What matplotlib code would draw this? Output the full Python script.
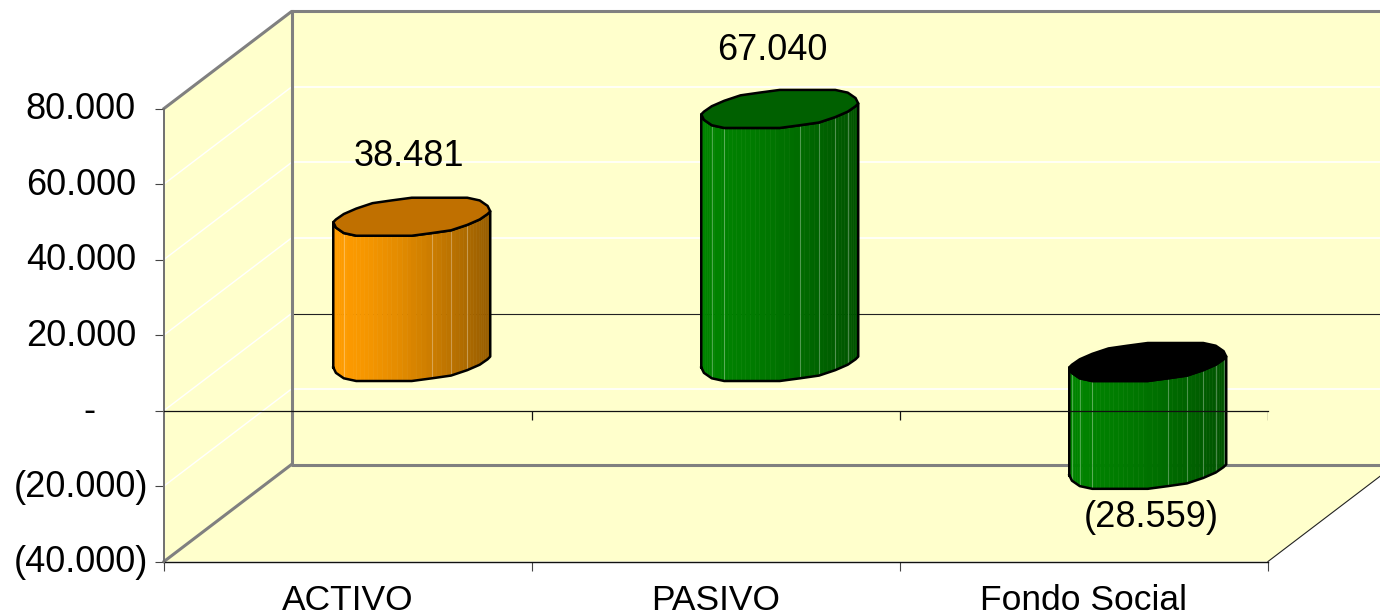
import numpy as np
import matplotlib
matplotlib.use("Agg")
import matplotlib.pyplot as plt
from matplotlib.colors import to_rgb
from matplotlib.transforms import ScaledTranslation

plt.rcParams['font.family'] = ['Liberation Sans', 'DejaVu Sans']

# data
categories = ["ACTIVO", "PASIVO", "Fondo Social"]
values = [38481, 67040, -28559]
value_labels = ["38.481", "67.040", "(28.559)"]
y_ticks = [80000, 60000, 40000, 20000, 0, -20000, -40000]
y_labels = ["80.000", "60.000", "40.000", "20.000", "-", "(20.000)", "(40.000)"]

# style
side_left = ["#FF9C00", "#008400", "#008400"]
side_right = ["#965C00", "#005200", "#005200"]
cap_colors = ["#C07000", "#006000", "#000000"]
pale_edges = [[2, 7, 8, 9], [2, 3, 7, 8, 9, 10], [1, 2, 3, 7, 8, 9, 10, 11]]
label_offsets = [(-3, 60), (-7, 58), (4, -48)]
tick_pads = [13.7, 13.7, 13.7, 13.7, 43, 5, 5]
WALL = "#FFFFCC"
GREY = "#808080"

# oblique depth of the box, in data units
DX = 127.5 / 368
DY = 97 / 3.775 * 1000
RX = 0.201          # cylinder radius along x
RD = 0.206          # cylinder radius along depth
N = 12              # facets on the visible half
SNAP = 0.028        # the original's facets are coarse, snap the height a bit


def project(x, y, d):
    return x + d * DX, y + d * DY


def ring(cx, y, angles):
    depth = RD * np.sin(angles)
    xs, _ = project(cx + RX * np.cos(angles), y, 0.5 + depth)
    _, ys = project(cx, y, 0.5 + np.round(depth / SNAP) * SNAP)
    return xs, ys


fig = plt.figure(figsize=(13.8, 6.15), dpi=100, facecolor="white")
ax = fig.add_axes([164 / 1380, (615 - 561.5) / 615, 1104 / 1380, 453 / 615])
ax.set_xlim(0, 3)
ax.set_ylim(-40000, 80000)
ax.patch.set_visible(False)
for s in ax.spines.values():
    s.set_visible(False)

ymin, ymax = -40000, 80000
xmax = 3

# walls and floor
bx, by = project(0, ymin, 1)
tx, ty = project(0, ymax, 1)
ex, ey = project(xmax, ymin, 1)
ax.fill([0, tx, ex, ex, xmax, 0], [ymax, ty, ty, ey, ymin, ymin],
        color=WALL, lw=0, zorder=1, clip_on=False)

# gridlines on back and side wall
for v in y_ticks[1:-1]:
    if v == 0:
        continue
    gx, gy = project(0, v, 1)
    ax.plot([0, gx], [v, gy], color="white", lw=1.0, zorder=2, clip_on=False)
    ax.plot([gx, ex], [gy, gy], color="white", lw=1.2, zorder=2, clip_on=False)
zx, zy = project(0, 0, 1)
ax.plot([0, zx], [0, zy], color="white", lw=1.0, zorder=2, clip_on=False)
ax.plot([zx, ex], [zy, zy], color="#222222", lw=0.8, zorder=2, clip_on=False)

# box edges
ax.plot([0, tx, ex], [ymax, ty, ty], color=GREY, lw=2.2, zorder=3, clip_on=False)
ax.plot([tx, bx, ex], [ty, by, by], color=GREY, lw=2.2, zorder=3, clip_on=False)
ax.plot([0, bx], [ymin, by], color=GREY, lw=2.2, zorder=3, clip_on=False)
ax.plot([xmax, ex], [ymin, ey], color="#222222", lw=0.8, zorder=3, clip_on=False)
ax.plot([0, xmax], [ymin, ymin], color="#111111", lw=1.0, zorder=3, clip_on=False)

# cylinders
t0 = np.arctan2(RD * 127.5, RX * 368)
for i, v in enumerate(values):
    cx = i + 0.5
    hi, lo = max(v, 0), min(v, 0)
    outline = np.linspace(t0 + np.pi, t0 + 2 * np.pi, N + 1)
    left = np.array(to_rgb(side_left[i]))
    right = np.array(to_rgb(side_right[i]))
    xb, yb = ring(cx, lo, outline)
    xt, yt = ring(cx, hi, outline)
    for k in range(N):
        # split a facet in strips so the shade runs smooth
        fr = np.linspace(0, 1, 5)
        sx = xb[k] + (xb[k + 1] - xb[k]) * fr
        sb = yb[k] + (yb[k + 1] - yb[k]) * fr
        st = yt[k] + (yt[k + 1] - yt[k]) * fr
        for j in range(4):
            f = ((sx[j] + sx[j + 1]) / 2 - xb[0]) / (xb[-1] - xb[0])
            col = left + (right - left) * f ** 1.5
            ax.fill([sx[j], sx[j + 1], sx[j + 1], sx[j]],
                    [sb[j], sb[j + 1], st[j + 1], st[j]],
                    color=tuple(col), lw=0.4, zorder=4, clip_on=False)
    # pale facet edges
    for k in pale_edges[i]:
        ax.plot([xb[k], xt[k]], [yb[k], yt[k]], color="white", alpha=0.3,
                lw=0.8, zorder=5, clip_on=False)
    # outline of the side
    ax.plot(np.r_[xb, xt[::-1], xb[0]], np.r_[yb, yt[::-1], yb[0]], color="black",
            lw=1.8, zorder=6, clip_on=False, solid_joinstyle="round")
    # cap
    full = np.r_[outline, outline[1:] + np.pi]
    xc, yc = ring(cx, hi, full)
    ax.fill(xc, yc, facecolor=cap_colors[i], edgecolor="black", lw=1.8,
            zorder=6, clip_on=False, joinstyle="round")
    ax.annotate(value_labels[i], project(cx, v, 0.5), xytext=label_offsets[i],
                textcoords="offset pixels", ha="center", va="center",
                fontsize=26, color="black", zorder=9)

# zero axis in front of the bars
ax.axhline(0, color="#111111", lw=0.9, zorder=7, clip_on=False)
ax.vlines([1, 2, 3], -2400, 0, color="#111111", lw=0.9, zorder=7)
ax.plot([0, 0], [ymin, ymax], color="#707070", lw=1.4, zorder=3, clip_on=False)

# axes
ax.set_yticks(y_ticks, y_labels)
ax.set_xticks([0, 1, 2, 3], ["", "", "", ""])
ax.set_xticks([0.5, 1.5, 2.5], categories, minor=True)
ax.tick_params(axis="y", length=6.5, width=0.8, color="#444444", labelsize=26)
ax.tick_params(axis="x", which="major", length=6.5, width=0.8, color="#444444")
ax.tick_params(axis="x", which="minor", length=0, pad=16, labelsize=25.5)
up = ScaledTranslation(0, 2 / 72, fig.dpi_scale_trans)
for tick, pad in zip(ax.yaxis.get_major_ticks(), tick_pads):
    tick.set_pad(pad)
    tick.label1.set_transform(tick.label1.get_transform() + up)

fig.savefig("out.png", dpi=100)
plt.close(fig)
